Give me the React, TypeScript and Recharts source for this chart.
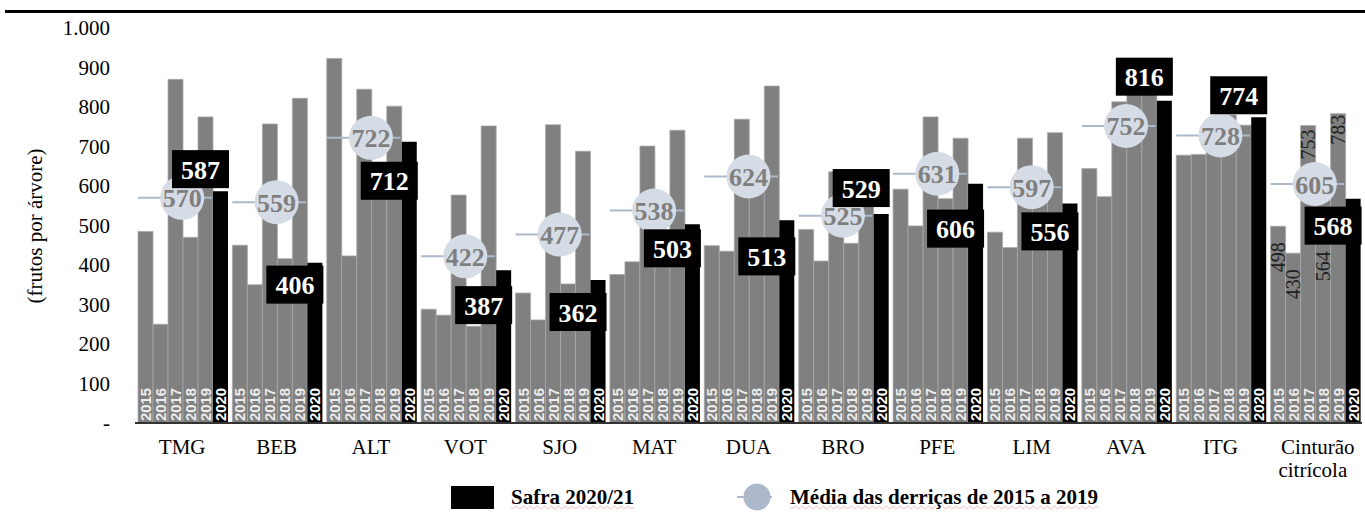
import React from "react";
import { ComposedChart, Bar, Line, XAxis, YAxis, LabelList } from "recharts";

const categories = ["TMG", "BEB", "ALT", "VOT", "SJO", "MAT", "DUA", "BRO", "PFE", "LIM", "AVA", "ITG", "Cinturão citrícola"];
const years = ["2015", "2016", "2017", "2018", "2019", "2020"];

const derrica2015 = [485, 450, 923, 288, 329, 376, 449, 490, 592, 483, 644, 678, 498];
const derrica2016 = [250, 350, 423, 273, 261, 408, 435, 410, 499, 444, 573, 680, 430];
const derrica2017 = [870, 757, 845, 577, 755, 701, 769, 636, 775, 721, 813, 748, 753];
const derrica2018 = [470, 416, 617, 245, 352, 464, 614, 455, 568, 602, 860, 780, 564];
const derrica2019 = [775, 822, 802, 752, 688, 741, 853, 634, 721, 735, 870, 754, 783];
const safra2020 = [587, 406, 712, 387, 362, 503, 513, 529, 606, 556, 816, 774, 568];
const media = [570, 559, 722, 422, 477, 538, 624, 525, 631, 597, 752, 728, 605];

const yTicks = [0, 100, 200, 300, 400, 500, 600, 700, 800, 900, 1000];

const data = categories.map((name, i) => ({
  name,
  y2015: derrica2015[i],
  y2016: derrica2016[i],
  y2017: derrica2017[i],
  y2018: derrica2018[i],
  y2019: derrica2019[i],
  y2020: safra2020[i],
  media: media[i],
}));

// layout
const W = 1365;
const H = 529;
const PLOT_LEFT = 135;
const PLOT_RIGHT = 1362;
const GAP = 3;
const BAND = (PLOT_RIGHT - PLOT_LEFT) / categories.length;
const BAR_W = (BAND - 2 * GAP) / 6;

const serif = "Liberation Serif";
const sans = "Liberation Sans";

// black value boxes: vertical offset of box top from bar top
const boxOffset: Record<string, number> = {
  TMG: -41, BEB: 3, ALT: 20, VOT: 16, SJO: 13, MAT: 5, DUA: 17,
  BRO: -45, PFE: 26, LIM: 9, AVA: -43, ITG: -41, "Cinturão citrícola": 8,
};
// Cinturão data labels: offset from bar top
const cintOffset: Record<string, number> = { y2015: 16, y2016: 16, y2017: 4, y2018: 51, y2019: 1 };

const yearLabel = (year: string, color: string) => (props: any) => {
  const x = Number(props.x);
  const y = Number(props.y);
  const w = Number(props.width);
  const h = Number(props.height);
  const cx = x + w / 2;
  const by = y + h - 2;
  return (
    <text
      x={cx}
      y={by}
      transform={`rotate(-90 ${cx} ${by})`}
      fill={color}
      fontFamily={sans}
      fontWeight={700}
      fontSize={15}
      textLength={33}
      lengthAdjust="spacingAndGlyphs"
      dominantBaseline="central"
      textAnchor="start"
    >
      {year}
    </text>
  );
};

const cintLabel = (key: string) => (props: any) => {
  if (props.index !== categories.length - 1) return null;
  const cx = Number(props.x) + Number(props.width) / 2;
  const ty = Number(props.y) + cintOffset[key];
  return (
    <text
      x={cx}
      y={ty}
      transform={`rotate(-90 ${cx} ${ty})`}
      fill="#1f1f1f"
      style={{ fontFamily: serif, fontSize: 20 }}
      dominantBaseline="central"
      textAnchor="end"
    >
      {props.value}
    </text>
  );
};

const SafraBox = (props: any) => {
  const x = Number(props.x);
  const y = Number(props.y);
  const w = Number(props.width);
  const name = categories[props.index];
  const bw = 57;
  const bh = 38;
  const bx = x + w + 1 - bw;
  const byy = y + (boxOffset[name] ?? 8);
  return (
    <g>
      <rect x={bx} y={byy} width={bw} height={bh} fill="#000" />
      <text
        x={bx + bw / 2}
        y={byy + bh / 2 + 1}
        fill="#fff"
        style={{ fontFamily: serif, fontWeight: 700, fontSize: 26 }}
        textAnchor="middle"
        dominantBaseline="central"
      >
        {props.value}
      </text>
    </g>
  );
};

const MediaDot = (props: any) => {
  const { cx, cy, value, index } = props;
  if (cx == null || cy == null) return <g key={`m-${index}`} />;
  const x0 = cx - BAND / 2 + GAP;
  const x1 = x0 + 5 * BAR_W;
  return (
    <g key={`m-${index}`}>
      <line x1={x0} x2={x1} y1={cy} y2={cy} stroke="#adb9ca" strokeWidth={2} />
      <circle cx={cx} cy={cy} r={22} fill="#d6dce5" />
      <text
        x={cx}
        y={cy + 1}
        fill="#7f7f7f"
        style={{ fontFamily: serif, fontWeight: 700, fontSize: 26 }}
        textAnchor="middle"
        dominantBaseline="central"
      >
        {value}
      </text>
    </g>
  );
};

const XTick = (props: any) => {
  const { x, y, payload } = props;
  const lines = String(payload.value).split(" ");
  const multi = lines.length > 1;
  return (
    <text x={x} y={y} textAnchor="middle" style={{ fontFamily: serif, fontSize: 21 }} fill="#000">
      {lines.map((l, i) => (
        <tspan key={i} x={multi ? (i === 0 ? x + 3 : x - 2) : x} dy={i === 0 ? 31 : 23}>
          {l}
        </tspan>
      ))}
    </text>
  );
};

const YTick = (props: any) => {
  const { x, y, payload } = props;
  const v = payload.value;
  const s = v === 0 ? "-" : v === 1000 ? "1.000" : String(v);
  return (
    <text x={x} y={y} textAnchor="end" dominantBaseline="central" style={{ fontFamily: serif, fontSize: 21 }} fill="#000">
      {s}
    </text>
  );
};

const grayKeys = ["y2015", "y2016", "y2017", "y2018", "y2019"];

const legendText: React.CSSProperties = {
  position: "absolute",
  top: 484,
  height: 26,
  lineHeight: "26px",
  fontFamily: serif,
  fontWeight: "bold",
  fontSize: 21,
  color: "#000",
  whiteSpace: "nowrap",
  textDecoration: "underline wavy",
  textDecorationColor: "rgba(235,120,120,0.5)",
  textDecorationThickness: 1,
};

export default function App() {
  return (
    <div style={{ position: "absolute", left: 0, top: 0, width: W, height: H, background: "#fff", fontFamily: serif }}>
      <div style={{ position: "absolute", left: 5, top: 10, width: W - 5, height: 3, background: "#000" }} />
      <div
        style={{
          position: "absolute",
          left: 35,
          top: 226,
          transform: "translate(-50%, -50%) rotate(-90deg)",
          fontFamily: serif,
          fontSize: 21,
          whiteSpace: "nowrap",
          color: "#000",
        }}
      >
        (frutos por árvore)
      </div>
      <ComposedChart
        width={W}
        height={H}
        data={data}
        margin={{ top: 28, right: W - PLOT_RIGHT, left: 0, bottom: 46 }}
        barCategoryGap={GAP}
        barGap={0}
      >
        <XAxis
          dataKey="name"
          height={60}
          tickLine={false}
          tickSize={0}
          tickMargin={0}
          axisLine={{ stroke: "#333333", strokeWidth: 2 }}
          tick={<XTick />}
          interval={0}
        />
        <YAxis
          domain={[0, 1000]}
          ticks={yTicks}
          width={PLOT_LEFT}
          axisLine={false}
          tickLine={false}
          tickMargin={19}
          tick={<YTick />}
        />
        {grayKeys.map((k, i) => (
          <Bar key={k} dataKey={k} fill="#808080" stroke="#a8a8a8" strokeWidth={0.75} isAnimationActive={false}>
            <LabelList dataKey={k} content={yearLabel(years[i], "#ededed")} />
            <LabelList dataKey={k} content={cintLabel(k)} />
          </Bar>
        ))}
        <Line
          dataKey="media"
          stroke="none"
          dot={MediaDot}
          activeDot={false}
          isAnimationActive={false}
        />
        <Bar dataKey="y2020" fill="#000" isAnimationActive={false}>
          <LabelList dataKey="y2020" content={yearLabel("2020", "#ffffff")} />
          <LabelList dataKey="y2020" content={SafraBox} />
        </Bar>
      </ComposedChart>

      {/* legend */}
      <div style={{ position: "absolute", left: 451, top: 486, width: 43, height: 23, background: "#000" }} />
      <div style={{ ...legendText, left: 511 }}>Safra 2020/21</div>
      <svg style={{ position: "absolute", left: 735, top: 482, overflow: "visible" }} width={40} height={30}>
        <line x1={2} x2={37} y1={15} y2={15} stroke="#adb9ca" strokeWidth={2} />
        <circle cx={22} cy={15} r={13.5} fill="#adb9ca" />
      </svg>
      <div style={{ ...legendText, left: 790 }}>Média das derriças de 2015 a 2019</div>
    </div>
  );
}
